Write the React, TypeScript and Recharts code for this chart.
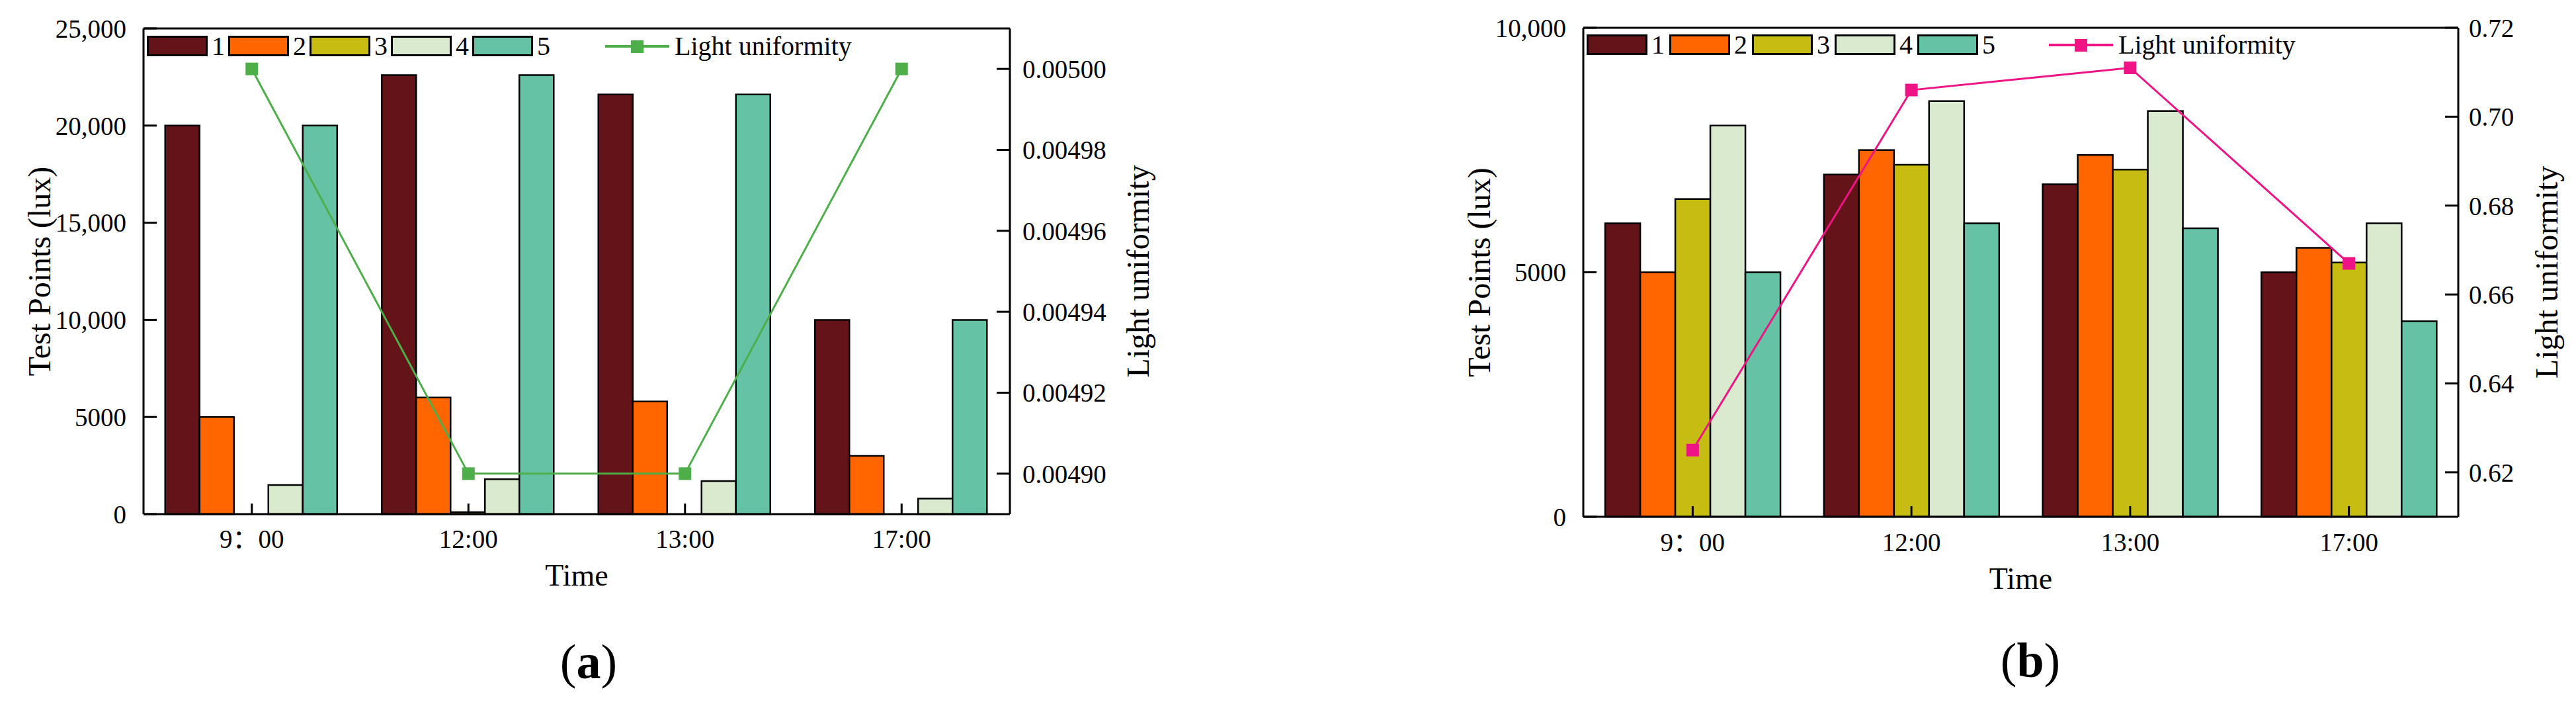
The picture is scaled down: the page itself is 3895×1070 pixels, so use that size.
import React from 'react';
import { ComposedChart, Bar, Line, XAxis, YAxis, Legend, ReferenceLine } from 'recharts';

const FONT = "'Liberation Serif', 'Noto Sans CJK SC', serif";

// ---------- shared ----------
const TIMES = ['9：00', '12:00', '13:00', '17:00'];
const SERIES_NAMES = ['1', '2', '3', '4', '5'];
const SERIES_COLORS = ['#641418', '#ff6600', '#c7bc11', '#d9eacf', '#66c2a5'];
const LINE_NAME = 'Light uniformity';
const LEFT_TITLE = 'Test Points (lux)';
const RIGHT_TITLE = 'Light uniformity';
const X_TITLE = 'Time';

// ---------- panel (a) ----------
const A_P1 = [20000, 22600, 21600, 10000];
const A_P2 = [5000, 6000, 5800, 3000];
const A_P3 = [0, 100, 0, 0];
const A_P4 = [1500, 1800, 1700, 800];
const A_P5 = [20000, 22600, 21600, 10000];
const A_UNIFORMITY = [0.005, 0.0049, 0.0049, 0.005];
const A_LEFT_DOMAIN = [0, 25000];
const A_LEFT_TICKS = [0, 5000, 10000, 15000, 20000, 25000];
const A_RIGHT_DOMAIN = [0.00489, 0.00501];
const A_RIGHT_TICKS = [0.0049, 0.00492, 0.00494, 0.00496, 0.00498, 0.005];
const A_LINE_COLOR = '#4dae4a';

// ---------- panel (b) ----------
const B_P1 = [6000, 7000, 6800, 5000];
const B_P2 = [5000, 7500, 7400, 5500];
const B_P3 = [6500, 7200, 7100, 5200];
const B_P4 = [8000, 8500, 8300, 6000];
const B_P5 = [5000, 6000, 5900, 4000];
const B_UNIFORMITY = [0.625, 0.706, 0.711, 0.667];
const B_LEFT_DOMAIN = [0, 10000];
const B_LEFT_TICKS = [0, 5000, 10000];
const B_RIGHT_DOMAIN = [0.61, 0.72];
const B_RIGHT_TICKS = [0.62, 0.64, 0.66, 0.68, 0.7, 0.72];
const B_LINE_COLOR = '#ee1485';

const buildRows = (series: number[][], u: number[]) =>
  TIMES.map((t, i) => ({
    time: t,
    s1: series[0][i],
    s2: series[1][i],
    s3: series[2][i],
    s4: series[3][i],
    s5: series[4][i],
    u: u[i],
  }));

const leftFmt = (v: number) => (v >= 10000 ? v.toLocaleString('en-US') : String(v));

type Cfg = {
  data: any[];
  width: number;
  margin: { top: number; right: number; bottom: number; left: number };
  leftDomain: number[];
  leftTicks: number[];
  rightDomain: number[];
  rightTicks: number[];
  rightDigits: number;
  lineColor: string;
  leftTitleX: number;
  rightTitleX: number;
  xTitleY: number;
  legendLeft: number;
  legendTop: number;
  legendStep: number;
  legendLineGap: number;
  leftTickMargin: number;
  rightTickMargin: number;
  xTickMargin: number;
};

const makeLegend = (cfg: Cfg) => () => (
  <div
    style={{
      display: 'flex',
      alignItems: 'center',
      fontFamily: FONT,
      fontSize: 40,
      color: '#000',
      lineHeight: '30px',
      whiteSpace: 'nowrap',
    }}
  >
    {SERIES_NAMES.map((n, i) => (
      <div key={n} style={{ display: 'flex', alignItems: 'center', width: cfg.legendStep }}>
        <div
          style={{
            width: 92,
            height: 31,
            background: SERIES_COLORS[i],
            border: '3px solid #000',
            boxSizing: 'border-box',
          }}
        />
        <span style={{ marginLeft: 6 }}>{n}</span>
      </div>
    ))}
    <div style={{ display: 'flex', alignItems: 'center', marginLeft: cfg.legendLineGap }}>
      <svg width={97} height={30}>
        <line x1={0} y1={15} x2={97} y2={15} stroke={cfg.lineColor} strokeWidth={4} />
        <rect x={39} y={6} width={19} height={19} fill={cfg.lineColor} />
      </svg>
      <span style={{ marginLeft: 8 }}>{LINE_NAME}</span>
    </div>
  </div>
);

const Panel = ({ cfg }: { cfg: Cfg }) => {
  const tickStyle = { fill: '#000', fontSize: 39, fontFamily: FONT };
  const axisLine = { stroke: '#000', strokeWidth: 3 };
  const tickLine = { stroke: '#000', strokeWidth: 3 };
  const SquareDot = (props: any) => {
    const { cx, cy, index } = props;
    if (cx == null || cy == null) return null;
    return <rect key={`dot-${index}`} x={cx - 9.5} y={cy - 9.5} width={19} height={19} fill={cfg.lineColor} />;
  };
  return (
    <ComposedChart
      width={cfg.width}
      height={1070}
      data={cfg.data}
      margin={cfg.margin}
      barCategoryGap="10%"
      barGap={0}
      style={{ fontFamily: FONT }}
    >
      <XAxis
        dataKey="time"
        xAxisId="x"
        height={60}
        interval={0}
        tick={tickStyle}
        tickSize={-16}
        tickMargin={cfg.xTickMargin}
        axisLine={axisLine}
        tickLine={tickLine}
        label={(p: any) => (
          <text
            x={p.viewBox.x + p.viewBox.width / 2}
            y={cfg.xTitleY}
            textAnchor="middle"
            fontSize={46}
            fontFamily={FONT}
            fill="#000"
          >
            {X_TITLE}
          </text>
        )}
      />
      <YAxis
        yAxisId="left"
        orientation="left"
        width={150}
        type="number"
        domain={cfg.leftDomain}
        ticks={cfg.leftTicks}
        interval={0}
        tickFormatter={leftFmt}
        tick={tickStyle}
        tickSize={-20}
        tickMargin={cfg.leftTickMargin}
        axisLine={axisLine}
        tickLine={tickLine}
        label={(p: any) => (
          <text
            transform={`translate(${cfg.leftTitleX}, ${p.viewBox.y + p.viewBox.height / 2}) rotate(-90)`}
            textAnchor="middle"
            dominantBaseline="central"
            fontSize={48}
            fontFamily={FONT}
            fill="#000"
          >
            {LEFT_TITLE}
          </text>
        )}
      />
      <YAxis
        yAxisId="right"
        orientation="right"
        width={150}
        type="number"
        domain={cfg.rightDomain}
        ticks={cfg.rightTicks}
        interval={0}
        tickFormatter={(v: number) => v.toFixed(cfg.rightDigits)}
        tick={tickStyle}
        tickSize={-20}
        tickMargin={cfg.rightTickMargin}
        axisLine={axisLine}
        tickLine={tickLine}
        allowDataOverflow
        label={(p: any) => (
          <text
            transform={`translate(${cfg.rightTitleX}, ${p.viewBox.y + p.viewBox.height / 2}) rotate(-90)`}
            textAnchor="middle"
            dominantBaseline="central"
            fontSize={48}
            fontFamily={FONT}
            fill="#000"
          >
            {RIGHT_TITLE}
          </text>
        )}
      />
      <ReferenceLine yAxisId="left" xAxisId="x" y={cfg.leftDomain[1]} stroke="#000" strokeWidth={3} />
      {SERIES_NAMES.map((n, i) => (
        <Bar
          key={n}
          name={n}
          dataKey={`s${i + 1}`}
          xAxisId="x"
          yAxisId="left"
          fill={SERIES_COLORS[i]}
          stroke="#000"
          strokeWidth={2.5}
          isAnimationActive={false}
        />
      ))}
      <Line
        name={LINE_NAME}
        dataKey="u"
        xAxisId="x"
        yAxisId="right"
        stroke={cfg.lineColor}
        strokeWidth={3}
        dot={SquareDot}
        activeDot={false}
        isAnimationActive={false}
      />
      <Legend
        layout="horizontal"
        verticalAlign="middle"
        align="center"
        content={makeLegend(cfg)}
        wrapperStyle={{ left: cfg.legendLeft, top: cfg.legendTop, width: 1300, height: 32 }}
      />
    </ComposedChart>
  );
};

const CFG_A: Cfg = {
  data: buildRows([A_P1, A_P2, A_P3, A_P4, A_P5], A_UNIFORMITY),
  width: 1950,
  margin: { top: 43, right: 273, bottom: 233, left: 67 },
  leftDomain: A_LEFT_DOMAIN,
  leftTicks: A_LEFT_TICKS,
  rightDomain: A_RIGHT_DOMAIN,
  rightTicks: A_RIGHT_TICKS,
  rightDigits: 5,
  lineColor: A_LINE_COLOR,
  leftTitleX: 59,
  rightTitleX: 1720,
  xTitleY: 885,
  legendLeft: 222,
  legendTop: 54,
  legendStep: 123,
  legendLineGap: 78,
  leftTickMargin: 46,
  rightTickMargin: 39,
  xTickMargin: 39,
};

const CFG_B: Cfg = {
  data: buildRows([B_P1, B_P2, B_P3, B_P4, B_P5], B_UNIFORMITY),
  width: 1945,
  margin: { top: 42, right: 28, bottom: 229, left: 294 },
  leftDomain: B_LEFT_DOMAIN,
  leftTicks: B_LEFT_TICKS,
  rightDomain: B_RIGHT_DOMAIN,
  rightTicks: B_RIGHT_TICKS,
  rightDigits: 2,
  lineColor: B_LINE_COLOR,
  leftTitleX: 286,
  rightTitleX: 1900,
  xTitleY: 890,
  legendLeft: 449,
  legendTop: 52,
  legendStep: 125,
  legendLineGap: 74,
  leftTickMargin: 46,
  rightTickMargin: 36,
  xTickMargin: 40,
};

export default function App() {
  return (
    <div
      style={{
        position: 'absolute',
        left: 0,
        top: 0,
        width: 3895,
        height: 1070,
        background: '#fff',
        fontFamily: FONT,
        overflow: 'hidden',
      }}
    >
      <div style={{ position: 'absolute', left: 0, top: 0 }}>
        <Panel cfg={CFG_A} />
      </div>
      <div style={{ position: 'absolute', left: 1950, top: 0 }}>
        <Panel cfg={CFG_B} />
      </div>
      <svg
        width={3895}
        height={1070}
        style={{ position: 'absolute', left: 0, top: 0, pointerEvents: 'none' }}
      >
        <text x={890} y={1025} textAnchor="middle" fontSize={74} fontFamily={FONT} fill="#000">
          (<tspan fontWeight="bold">a</tspan>)
        </text>
        <text x={3070} y={1023} textAnchor="middle" fontSize={74} fontFamily={FONT} fill="#000">
          (<tspan fontWeight="bold">b</tspan>)
        </text>
      </svg>
    </div>
  );
}
